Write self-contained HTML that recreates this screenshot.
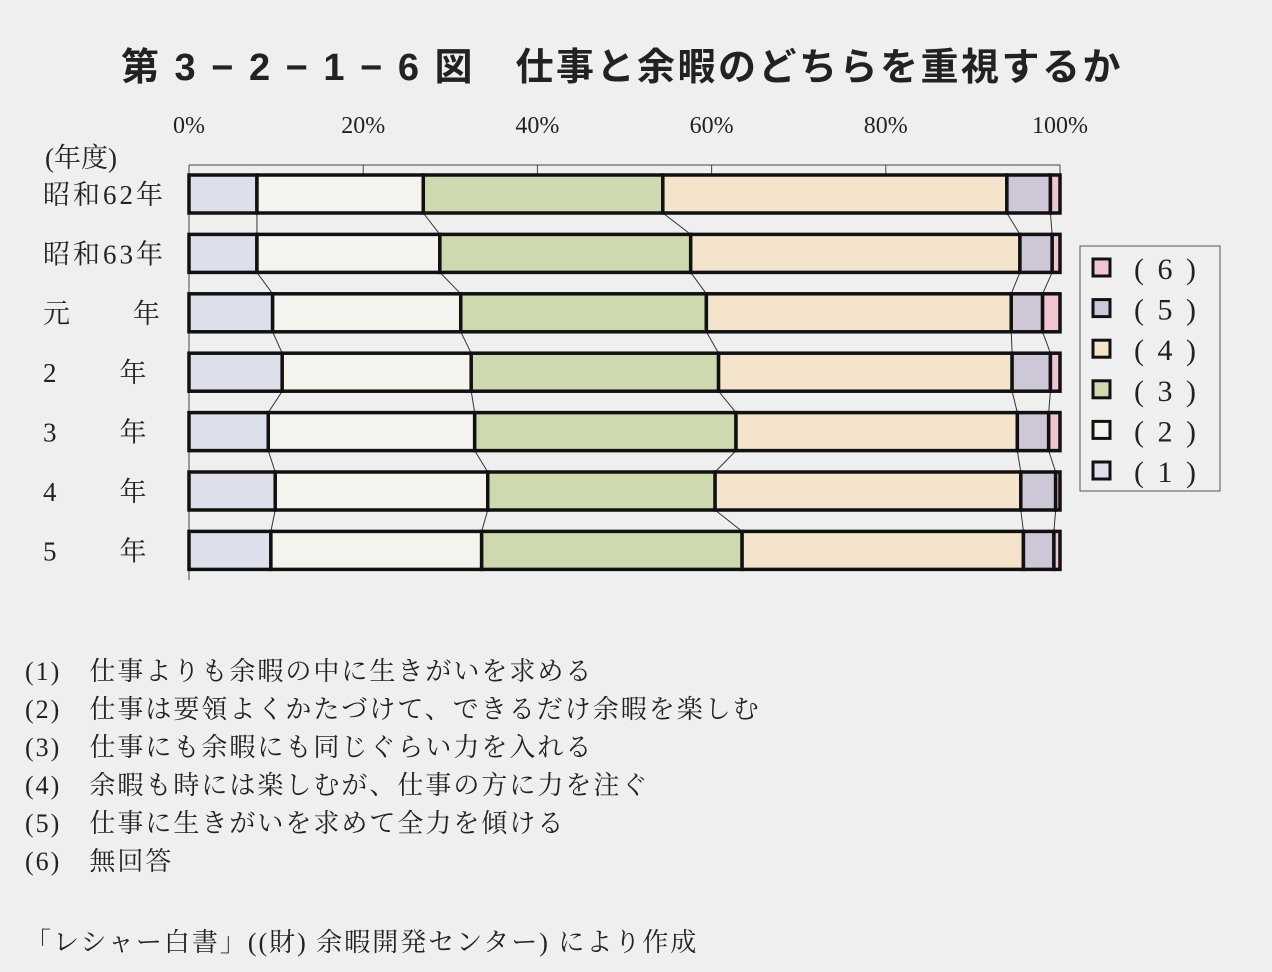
<!DOCTYPE html>
<html><head><meta charset="utf-8"><style>
body{margin:0;background:#efefef;}
svg{display:block;font-family:"Liberation Serif","Noto Serif CJK SC","Noto Sans CJK JP",serif;}
.t{font-family:"Liberation Sans","Noto Sans CJK JP",sans-serif;font-weight:bold;}
</style></head><body>
<svg id="chart" width="1272" height="972" viewBox="0 0 1272 972">
<text class="t" x="622" y="80" font-size="38" letter-spacing="2.5" text-anchor="middle" fill="#222">第 3 − 2 − 1 − 6 図　仕事と余暇のどちらを重視するか</text>
<g id="axis"></g><g id="bars"></g><g id="legend"></g>
<text x="45" y="167" font-size="27" fill="#222">(年度)</text>
<g font-size="26" fill="#222" letter-spacing="2">
<text x="25" y="680">(1)　仕事よりも余暇の中に生きがいを求める</text>
<text x="25" y="718">(2)　仕事は要領よくかたづけて、できるだけ余暇を楽しむ</text>
<text x="25" y="756">(3)　仕事にも余暇にも同じぐらい力を入れる</text>
<text x="25" y="794">(4)　余暇も時には楽しむが、仕事の方に力を注ぐ</text>
<text x="25" y="832">(5)　仕事に生きがいを求めて全力を傾ける</text>
<text x="25" y="870">(6)　無回答</text>
<text x="25" y="951">「レシャー白書」((財) 余暇開発センター) により作成</text>
</g>
</svg>
<script>
const categories=["昭和62年","昭和63年","元　　年","2　　年","3　　年","4　　年","5　　年"];
const s1=[7.8,7.8,9.6,10.7,9.1,9.9,9.4];
const s2=[19.1,21.0,21.6,21.7,23.7,24.4,24.2];
const s3=[27.5,28.8,28.2,28.4,30.0,26.1,29.9];
const s4=[39.5,37.8,35.0,33.7,32.3,35.1,32.3];
const s5=[5.0,3.7,3.6,4.4,3.6,4.0,3.5];
const s6=[1.1,0.9,2.0,1.1,1.3,0.5,0.7];
const seriesNames=["(1)","(2)","(3)","(4)","(5)","(6)"];
const ticks=[0,20,40,60,80,100];
const series=[s1,s2,s3,s4,s5,s6];
const colors=["#dde0ea","#f4f3ee","#cfd9b0","#f4e4cc","#cdc7d8","#f2c6d0"];
const NS="http://www.w3.org/2000/svg";
const X0=189,X1=1060,Y0=175,ROWH=59.4,BH=38;
const xs=v=>X0+(X1-X0)*v/100;
const ys=i=>Y0+i*ROWH;
function mk(tag,attrs,parent){const e=document.createElementNS(NS,tag);for(const k in attrs)e.setAttribute(k,attrs[k]);parent.appendChild(e);return e;}
const ax=document.getElementById('axis');
mk('line',{x1:X0,y1:165,x2:X1,y2:165,stroke:'#444','stroke-width':1},ax);
mk('line',{x1:X0,y1:165,x2:X0,y2:580,stroke:'#444','stroke-width':1},ax);
ticks.forEach(t=>{
 const l=mk('line',{x1:xs(t),y1:165,x2:xs(t),y2:175,stroke:'#444','stroke-width':1},ax);
 
 
 const tx=mk('text',{x:xs(t),y:133,'font-size':24,'text-anchor':'middle',fill:'#222'},ax);
 tx.textContent=t+'%';
 
 
});
const bg=document.getElementById('bars');
const cum=categories.map((c,i)=>{let a=[0];series.forEach(s=>a.push(a[a.length-1]+s[i]));return a;});
for(let i=0;i<categories.length-1;i++){
 for(let k=1;k<=5;k++){
  const l=mk('line',{x1:xs(cum[i][k]),y1:ys(i)+BH,x2:xs(cum[i+1][k]),y2:ys(i+1),stroke:'#333','stroke-width':1},bg);
  
  
 }
}
categories.forEach((c,i)=>{
 const lab=mk('text',{x:43,y:ys(i)+BH/2+10,'font-size':27,'letter-spacing':3,fill:'#222'},bg);
 lab.textContent=c;
 
 
 series.forEach((s,k)=>{
  const r=mk('rect',{x:xs(cum[i][k]),y:ys(i),width:Math.max(0,xs(cum[i][k+1])-xs(cum[i][k])),height:BH,fill:colors[k],stroke:'#111','stroke-width':3.5},bg);
  
  
 });
});
const lg=document.getElementById('legend');
const box=mk('rect',{x:1080,y:246,width:140,height:245,fill:'none',stroke:'#555','stroke-width':1},lg);


for(let j=0;j<6;j++){
 const k=5-j, y=268+j*40.6;
 const r=mk('rect',{x:1093,y:y-9,width:17,height:17,fill:colors[k],stroke:'#111','stroke-width':3},lg);
 
 
 const t=mk('text',{x:1134,y:y+11,'font-size':30,'letter-spacing':3,fill:'#222'},lg);
 t.textContent='( '+(k+1)+' )';
 
 
}
</script>
</body></html>
